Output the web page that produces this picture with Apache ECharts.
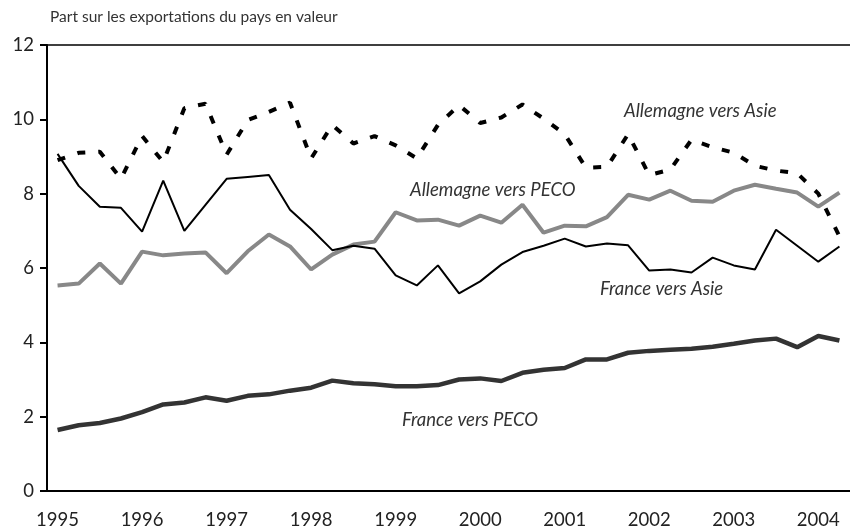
<!DOCTYPE html>
<html>
<head>
<meta charset="utf-8">
<script src="https://cdn.jsdelivr.net/npm/echarts@6/dist/echarts.min.js"></script>
<style>
  html, body { margin: 0; padding: 0; background: #fff; }
  #main { width: 850px; height: 530px; }
</style>
</head>
<body>
<div id="main"></div>
<script>
// trimestres 1995T1 -> 2004T2
var years = ['1995', '1996', '1997', '1998', '1999', '2000', '2001', '2002', '2003', '2004'];
var quarters = [];
years.forEach(function (y) {
    for (var q = 1; q <= 4; q++) quarters.push(y + 'T' + q);
});
quarters = quarters.slice(0, 38);

var yTicks = [0, 2, 4, 6, 8, 10, 12];

var allemagneAsie = [8.9, 9.1, 9.13, 8.4, 9.55, 8.85, 10.3, 10.42, 9.05, 9.98,
    10.2, 10.45, 8.95, 9.85, 9.35, 9.55, 9.3, 8.95, 9.85, 10.38,
    9.9, 10.05, 10.4, 10.02, 9.6, 8.7, 8.72, 9.6, 8.5, 8.65,
    9.45, 9.25, 9.1, 8.75, 8.62, 8.55, 8.0, 6.85];

var franceAsie = [9.07, 8.21, 7.65, 7.62, 6.98, 8.35, 7.0, 7.7, 8.4, 8.45,
    8.5, 7.57, 7.05, 6.48, 6.6, 6.52, 5.8, 5.53, 6.07, 5.32,
    5.64, 6.09, 6.43, 6.6, 6.79, 6.58, 6.66, 6.61, 5.93, 5.96,
    5.88, 6.28, 6.07, 5.96, 7.03, 6.6, 6.17, 6.58];

var allemagnePeco = [5.53, 5.58, 6.12, 5.58, 6.44, 6.34, 6.39, 6.42, 5.86, 6.45,
    6.9, 6.58, 5.96, 6.36, 6.63, 6.71, 7.5, 7.28, 7.3, 7.14,
    7.41, 7.22, 7.7, 6.95, 7.14, 7.12, 7.37, 7.97, 7.84, 8.08,
    7.81, 7.78, 8.08, 8.24, 8.13, 8.03, 7.65, 8.03];

var francePeco = [1.64, 1.77, 1.83, 1.95, 2.12, 2.33, 2.38, 2.52, 2.43, 2.56,
    2.6, 2.7, 2.78, 2.97, 2.9, 2.87, 2.82, 2.82, 2.85, 3.0,
    3.03, 2.96, 3.18, 3.26, 3.31, 3.54, 3.54, 3.72, 3.77, 3.8,
    3.83, 3.88, 3.96, 4.05, 4.1, 3.87, 4.17, 4.05];

var FONT = 'Lato';

var myChart = echarts.init(document.getElementById('main'));

function textBox(text, x, y, font) {
    return {
        type: 'text',
        x: x,
        y: y,
        style: {
            text: text,
            font: font,
            fill: '#333',
            align: 'left',
            verticalAlign: 'top'
        }
    };
}

var option = {
    animation: false,
    backgroundColor: '#fff',
    textStyle: { fontFamily: FONT },
    grid: {
        left: 47,
        top: 45,
        width: 814,
        bottom: 38,
        containLabel: false
    },
    xAxis: [{
        type: 'category',
        data: quarters,
        boundaryGap: true,
        axisLine: { lineStyle: { color: '#000', width: 2 } },
        axisTick: { inside: true, length: 7, interval: 3, lineStyle: { color: '#000', width: 2 } },
        axisLabel: {
            interval: 3,
            margin: 20,
            fontSize: 18.5,
            color: '#222',
            fontFamily: FONT,
            formatter: function (v) { return v.slice(0, 4); }
        },
        splitLine: { show: false }
    }, {
        type: 'category',
        position: 'top',
        data: quarters,
        axisLine: { lineStyle: { color: '#000', width: 1.5 } },
        axisTick: { show: false },
        axisLabel: { show: false }
    }],
    yAxis: {
        type: 'value',
        min: yTicks[0],
        max: yTicks[yTicks.length - 1],
        interval: 2,
        axisLine: { show: true, lineStyle: { color: '#000', width: 2 } },
        axisTick: { show: true, length: 7, lineStyle: { color: '#000', width: 2 } },
        axisLabel: { fontSize: 18.5, color: '#222', margin: 13, fontFamily: FONT },
        splitLine: { show: false }
    },
    series: [
        {
            name: 'Allemagne vers Asie',
            type: 'line',
            data: allemagneAsie,
            symbol: 'none',
            lineStyle: { color: '#000', width: 4, type: [8, 13] },
            z: 4
        },
        {
            name: 'France vers Asie',
            type: 'line',
            data: franceAsie,
            symbol: 'none',
            lineStyle: { color: '#000', width: 2 },
            z: 3
        },
        {
            name: 'Allemagne vers PECO',
            type: 'line',
            data: allemagnePeco,
            symbol: 'none',
            lineStyle: { color: '#888', width: 4 },
            z: 2
        },
        {
            name: 'France vers PECO',
            type: 'line',
            data: francePeco,
            symbol: 'none',
            lineStyle: { color: '#333', width: 4.5 },
            z: 2
        }
    ],
    graphic: [
        textBox('Part sur les exportations du pays en valeur', 50, 9, '15.5px ' + FONT),
        textBox('Allemagne vers Asie', 624, 102, 'italic 18.5px ' + FONT),
        textBox('Allemagne vers PECO', 410, 181, 'italic 18.5px ' + FONT),
        textBox('France vers Asie', 600, 280, 'italic 18.5px ' + FONT),
        textBox('France vers PECO', 402, 411, 'italic 18.5px ' + FONT)
    ]
};

myChart.setOption(option);
</script>
</body>
</html>
